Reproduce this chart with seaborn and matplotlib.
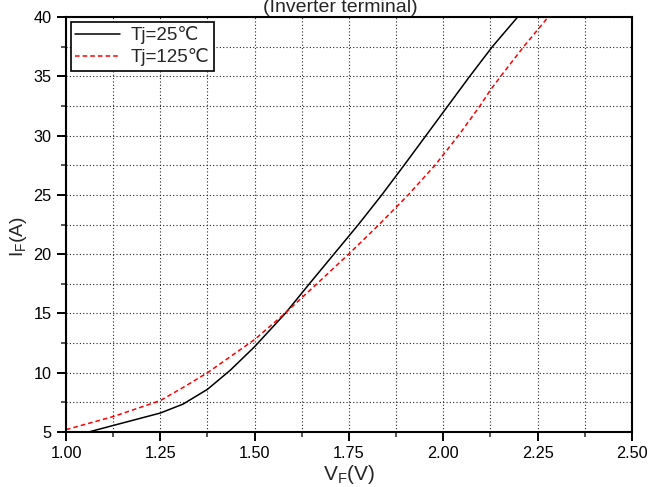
import matplotlib
matplotlib.use("Agg")
import matplotlib.pyplot as plt
import seaborn as sns
import pandas as pd
from matplotlib.ticker import MultipleLocator, FormatStrFormatter

vf_25 = [1.06, 1.125, 1.25, 1.31, 1.375, 1.435, 1.5, 1.581, 1.645, 1.71, 1.775, 1.837, 1.896, 1.954, 2.012, 2.07, 2.13, 2.197]
if_25 = [5.0, 5.55, 6.6, 7.35, 8.6, 10.2, 12.2, 15.0, 17.5, 20.0, 22.5, 25.0, 27.5, 30.0, 32.5, 35.0, 37.5, 40.0]
vf_125 = [1.0, 1.125, 1.25, 1.31, 1.375, 1.5, 1.58, 1.665, 1.749, 1.83, 1.907, 1.978, 2.04, 2.097, 2.125, 2.152, 2.213, 2.278]
if_125 = [5.2, 6.3, 7.65, 8.75, 10.0, 12.8, 15.0, 17.5, 20.0, 22.5, 25.0, 27.5, 30.0, 32.5, 33.85, 35.0, 37.5, 40.0]
labels = ["Tj=25\u2103", "Tj=125\u2103"]
title = "(Inverter terminal)"

sns.set_theme(style="white")
plt.rcParams["font.family"] = ["Liberation Sans", "DejaVu Sans"]
plt.rcParams["mathtext.fontset"] = "custom"
plt.rcParams["mathtext.rm"] = "Liberation Sans"

df = pd.concat([
    pd.DataFrame({"VF": vf_25, "IF": if_25, "series": labels[0]}),
    pd.DataFrame({"VF": vf_125, "IF": if_125, "series": labels[1]}),
])

fig = plt.figure(figsize=(6.5, 4.87), dpi=100)
ax = fig.add_axes([66/650, 1-432/487, (632-66)/650, (432-17)/487])

sns.lineplot(data=df, x="VF", y="IF", hue="series", style="series",
             palette={labels[0]: "black", labels[1]: "red"},
             dashes={labels[0]: "", labels[1]: (3, 2)},
             sort=False, estimator=None, linewidth=1.1, ax=ax)

ax.set_xlim(1.0, 2.5)
ax.set_ylim(5, 40)
ax.xaxis.set_major_locator(MultipleLocator(0.25))
ax.xaxis.set_minor_locator(MultipleLocator(0.125))
ax.yaxis.set_major_locator(MultipleLocator(5))
ax.yaxis.set_minor_locator(MultipleLocator(2.5))
ax.xaxis.set_major_formatter(FormatStrFormatter("%.2f"))
ax.grid(True, which="both", linestyle=(0, (1, 2)), color="#222222", linewidth=0.8)
ax.tick_params(which="major", direction="out", length=6.3, width=1.4, labelsize=11.7,
               pad=4, bottom=True, left=True, colors="black")
ax.tick_params(which="minor", direction="out", length=3.5, width=1.1, bottom=True, left=True)
for s in ax.spines.values():
    s.set_color("black")
    s.set_linewidth(1.5)

ax.set_xlabel(r"V$_\mathrm{F}$(V)", fontsize=15, labelpad=1)
ax.set_ylabel(r"I$_\mathrm{F}$(A)", fontsize=14)
ax.yaxis.set_label_coords(-0.066, (432-236)/415)

leg = ax.legend(loc="upper left", fontsize=13.5, frameon=True, fancybox=False,
                borderaxespad=0.25, handlelength=2.4, borderpad=0.25,
                labelspacing=0.2, handletextpad=0.55)
leg.get_frame().set_edgecolor("black")
leg.get_frame().set_linewidth(1.2)
leg.get_frame().set_alpha(1)
leg.set_title(None)

fig.text(0.523, 1-12/487, title, ha="center", va="baseline", fontsize=14)

fig.savefig("out.png", dpi=100)
